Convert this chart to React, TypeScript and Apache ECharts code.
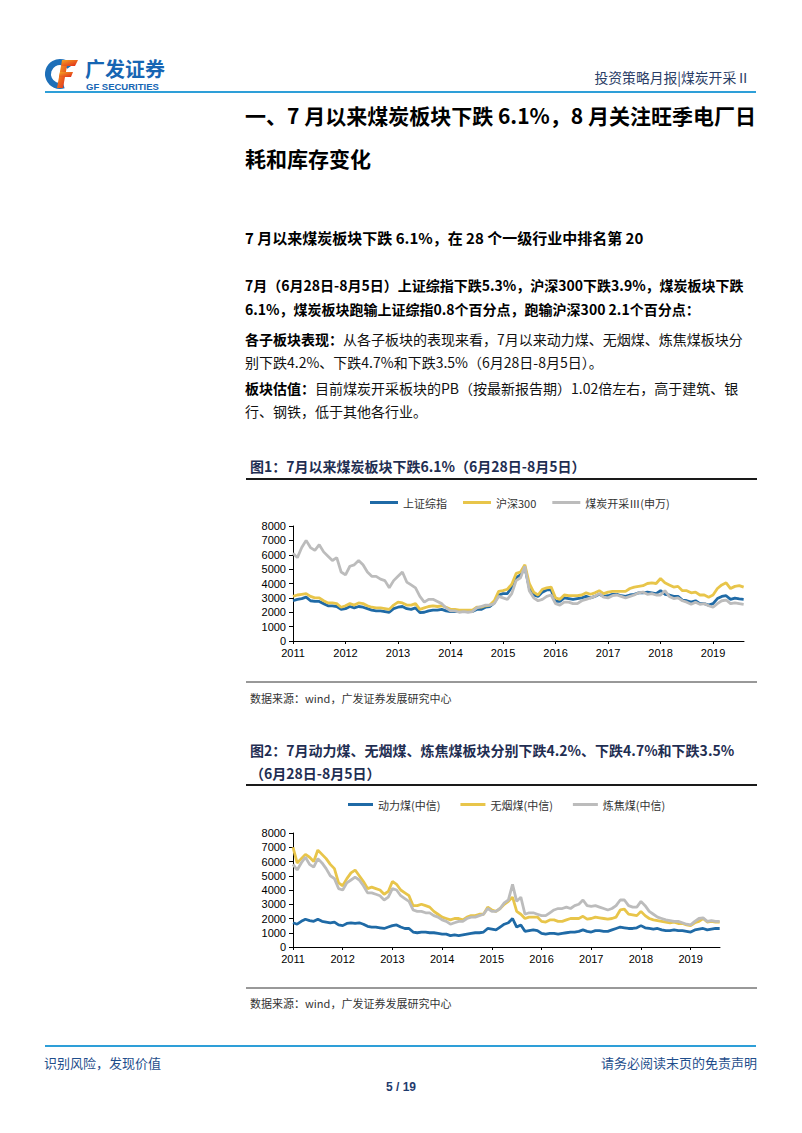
import React, { useEffect, useRef } from 'react';
import * as echarts from 'echarts';

// ---------- data ----------
const years = [2011, 2012, 2013, 2014, 2015, 2016, 2017, 2018, 2019];
const lastYearMonths = 8; // data through Aug 2019

const names1 = ['上证综指', '沪深300', '煤炭开采Ⅲ(申万)'];
const names2 = ['动力煤(中信)', '无烟煤(中信)', '炼焦煤(中信)'];

const shComposite = [
  2800, 2900, 2950, 3050, 2800, 2750, 2750, 2600, 2450, 2450, 2400, 2200,
  2250, 2400, 2300, 2400, 2350, 2250, 2150, 2100, 2100, 2050, 2000, 2250,
  2350, 2400, 2250, 2200, 2300, 1980, 2000, 2100, 2150, 2150, 2200, 2100,
  2050, 2050, 2050, 2050, 2050, 2050, 2200, 2200, 2350, 2400, 2650, 3200,
  3300, 3300, 3750, 4400, 4600, 5100, 3700, 3200, 3100, 3400, 3550, 3550,
  2750, 2750, 3000, 2950, 2900, 2950, 3000, 3100, 3000, 3100, 3250, 3100,
  3150, 3250, 3250, 3150, 3100, 3200, 3250, 3350, 3350, 3400, 3350, 3300,
  3500, 3250, 3200, 3100, 3100, 2850, 2800, 2700, 2800, 2600, 2600, 2500,
  2600, 2950, 3100, 3150, 2900, 2980, 2930, 2900,
];
const hs300 = [
  3100, 3200, 3250, 3300, 3100, 3000, 3000, 2800, 2650, 2650, 2600, 2350,
  2450, 2600, 2500, 2650, 2600, 2450, 2350, 2300, 2300, 2250, 2200, 2500,
  2700, 2650, 2500, 2500, 2600, 2200, 2300, 2400, 2450, 2400, 2450, 2350,
  2200, 2200, 2150, 2150, 2150, 2150, 2350, 2350, 2450, 2500, 2800, 3450,
  3500, 3600, 3950, 4700, 4800, 5300, 4000, 3400, 3200, 3600, 3700, 3750,
  3000, 2900, 3200, 3150, 3150, 3150, 3200, 3350, 3250, 3350, 3500, 3300,
  3400, 3450, 3450, 3450, 3450, 3650, 3750, 3800, 3850, 4000, 4050, 4000,
  4350, 4050, 3900, 3750, 3800, 3500, 3500, 3350, 3400, 3200, 3200, 3050,
  3200, 3650, 3900, 4050, 3650, 3800, 3850, 3750,
];
const coalMining = [
  6100, 5800, 6500, 7000, 6500, 6300, 6700, 6200, 5900, 5600, 5800, 4800,
  4600, 5200, 5300, 5600, 5300, 4800, 4500, 4500, 4300, 4200, 3700, 4200,
  4500, 4800, 4100, 3900, 3700, 3100, 2700, 2900, 2900, 2750, 2600, 2300,
  2100, 2100, 2000, 2050, 2000, 2050, 2300, 2400, 2500, 2500, 2600, 3100,
  3000, 2900, 3300, 4200, 4400, 5200, 3500, 3000, 2800, 2900, 3100, 3200,
  2600, 2500, 2700, 2700, 2600, 2600, 2800, 2900, 3000, 3100, 3300, 3050,
  3000, 3150, 3200, 3100, 3000, 3100, 3200, 3350, 3400, 3250, 3300, 3200,
  3200, 3500, 3100, 2950, 3000, 2800, 2700, 2550, 2700, 2550, 2600, 2450,
  2350, 2600, 2800, 2850, 2600, 2650, 2600, 2550,
];

const thermalCoal = [
  1700, 1600, 1800, 1950, 1850, 1800, 1950, 1800, 1750, 1700, 1750, 1550,
  1500, 1650, 1700, 1650, 1700, 1600, 1450, 1400, 1400, 1350, 1300, 1400,
  1500, 1550, 1400, 1300, 1300, 1050, 1000, 1050, 1050, 1000, 1000, 950,
  900, 900, 800, 850, 800, 850, 900, 950, 1000, 1000, 1050, 1300,
  1250, 1200, 1400, 1600, 1700, 2000, 1400, 1550, 1100, 1150, 1200, 1150,
  950, 900, 950, 950, 900, 950, 1000, 1050, 1050, 1100, 1200, 1100,
  1050, 1150, 1150, 1100, 1100, 1200, 1300, 1400, 1350, 1300, 1300, 1350,
  1500, 1350, 1300, 1250, 1300, 1200, 1150, 1150, 1200, 1150, 1150, 1100,
  1050, 1200, 1250, 1300, 1200, 1250, 1300, 1300,
];
const anthracite = [
  7000, 5900, 6200, 6500, 6300, 6000, 6800, 6500, 6200, 5800, 5500, 4500,
  4300, 4800, 5200, 5400, 5000, 4600, 4100, 4200, 4100, 4000, 3700, 3900,
  4600, 4400, 4000, 3800, 3600, 2900, 2900, 3000, 2900, 2800, 2500, 2300,
  2100, 2000, 1900, 2000, 2000, 1900, 2100, 2200, 2200, 2300, 2300, 2800,
  2600, 2500, 2700, 3000, 3200, 3500, 2500, 2300, 2000, 2100, 2100, 2100,
  1800, 1750, 1900, 1900, 1800, 1800, 1900, 2000, 2000, 2000, 2150, 1950,
  2000, 2100, 2050, 2000, 1950, 2000, 2100, 2600, 2650, 2300, 2250, 2200,
  2500, 2200, 2000, 1900, 1850, 1800, 1750, 1700, 1750, 1650, 1650, 1550,
  1500, 1700, 1800, 2000, 1750, 1800, 1750, 1750,
];
const cokingCoal = [
  5800, 5400, 5900, 6300, 5800, 5600, 6200, 5900, 5500, 5000, 4800, 4100,
  4000, 4500, 4700, 4900, 4700, 4300, 3800, 3800, 3700, 3600, 3300, 3500,
  4100, 4000, 3600, 3400, 3200, 2600, 2500, 2500, 2400, 2400, 2200, 2100,
  1900, 1800, 1600, 1700, 1800, 1800, 2000, 2100, 2100, 2200, 2300, 2700,
  2500, 2500, 2700, 3100, 3300, 4400, 3200, 3500, 2300, 2400, 2400, 2300,
  2200, 2200, 2400, 2600, 2700, 2700, 2800, 2700, 2900, 3000, 3300, 2900,
  2850, 2900, 2800, 2700, 2600, 2700, 2900, 3300, 3300, 2900, 2800, 2800,
  3200, 2900, 2500, 2300, 2100, 2000, 1900, 1850, 1800, 1800, 1700, 1600,
  1550, 1800, 2000, 2050, 1800, 1850, 1800, 1800,
];

const yTicks = { min: 0, max: 8000, interval: 1000 };

// ---------- helpers ----------
const xs: number[] = [];
years.forEach((y, yi) => {
  const n = yi === years.length - 1 ? lastYearMonths : 12;
  for (let m = 0; m < n; m++) xs.push(y + m / 12);
});
const pairs = (arr: number[]) => arr.map((v, i) => [xs[i], v]);

const BLUE = '#1f6aa6';
const YELLOW = '#e8c54a';
const GRAY = '#bcbcbc';
const NAVY = '#1f2e52';
const CJK = '"Noto Sans CJK SC", "Liberation Sans", sans-serif';
const LAT = '"Liberation Sans", Arial, sans-serif';

const xAxisCfg = (gi: number) => ({
  gridIndex: gi,
  type: 'value',
  min: 2011,
  max: 2019.59,
  interval: 1,
  axisLine: { show: true, lineStyle: { color: '#000', width: 1 } },
  axisTick: { show: true, length: 3, lineStyle: { color: '#000' } },
  splitLine: { show: false },
  axisLabel: {
    showMaxLabel: false,
    margin: 6,
    fontSize: 11,
    fontFamily: LAT,
    color: '#000',
    formatter: (v: number) => (Number.isInteger(v) ? String(v) : ''),
  },
});
const yAxisCfg = (gi: number) => ({
  gridIndex: gi,
  type: 'value',
  ...yTicks,
  axisLine: { show: true, lineStyle: { color: '#000', width: 1 } },
  axisTick: { show: true, length: 4, lineStyle: { color: '#000' } },
  splitLine: { show: false },
  axisLabel: {
    margin: 7,
    fontSize: 11,
    fontFamily: LAT,
    color: '#000',
    formatter: (v: number) => String(v),
  },
});
const lineSeries = (name: string, arr: number[], color: string, gi: number) => ({
  name,
  type: 'line',
  xAxisIndex: gi,
  yAxisIndex: gi,
  data: pairs(arr),
  showSymbol: false,
  symbol: 'none',
  lineStyle: { color, width: 2.8 },
  itemStyle: { color },
});

const txt = (text: string, x: number, y: number, font: string, fill = '#000', align = 'left') => ({
  type: 'text',
  style: { text, x, y, font, fill, align, verticalAlign: 'middle' },
});
const hline = (x1: number, x2: number, y: number, stroke: string, lineWidth: number) => ({
  type: 'line',
  shape: { x1, y1: y, x2, y2: y },
  style: { stroke, lineWidth },
});

export default function App() {
  const ref = useRef<HTMLDivElement>(null);
  useEffect(() => {
    if (!ref.current) return;
    const chart = echarts.init(ref.current, undefined, { renderer: 'svg' });
    const redGrad = new echarts.graphic.LinearGradient(0, 0, 1, 1, [
      { offset: 0, color: '#f5a623' },
      { offset: 1, color: '#e0261b' },
    ]);
    const paraBold = `bold 14px ${CJK}`;
    const paraNorm = `14px ${CJK}`;
    const rich = {
      b: { font: paraBold, fill: '#000' },
      n: { font: paraNorm, fill: '#111' },
    };
    chart.setOption({
      animation: false,
      backgroundColor: '#fff',
      grid: [
        { left: 293, top: 526, width: 451, height: 115 },
        { left: 293, top: 833, width: 427, height: 114 },
      ],
      legend: [
        {
          data: names1,
          left: 370,
          top: 497,
          padding: 0,
          icon: 'rect',
          itemWidth: 28,
          itemHeight: 3,
          itemGap: 16,
          textStyle: { fontSize: 11, fontFamily: CJK, color: '#333' },
        },
        {
          data: names2,
          left: 348,
          top: 799,
          padding: 0,
          icon: 'rect',
          itemWidth: 25,
          itemHeight: 3,
          itemGap: 20,
          textStyle: { fontSize: 11, fontFamily: CJK, color: '#333' },
        },
      ],
      xAxis: [xAxisCfg(0), xAxisCfg(1)],
      yAxis: [yAxisCfg(0), yAxisCfg(1)],
      series: [
        lineSeries(names1[0], shComposite, BLUE, 0),
        lineSeries(names1[1], hs300, YELLOW, 0),
        lineSeries(names1[2], coalMining, GRAY, 0),
        lineSeries(names2[0], thermalCoal, BLUE, 1),
        lineSeries(names2[1], anthracite, YELLOW, 1),
        lineSeries(names2[2], cokingCoal, GRAY, 1),
      ],
      graphic: [
        // logo
        {
          type: 'arc',
          shape: { cx: 60, cy: 74, r: 12, startAngle: Math.PI * 0.4, endAngle: Math.PI * 1.8, clockwise: true },
          style: { stroke: '#1d6fb8', lineWidth: 6, fill: 'none' },
        },
        { type: 'polygon', shape: { points: [[62, 60], [78, 60], [75, 66], [61, 66]] }, style: { fill: redGrad } },
        { type: 'polygon', shape: { points: [[61, 66], [67, 66], [63, 88], [57, 88]] }, style: { fill: redGrad } },
        { type: 'polygon', shape: { points: [[60, 72], [73, 72], [71, 77], [59, 77]] }, style: { fill: redGrad } },
        txt('广发证券', 85, 68, `bold 20px ${CJK}`, '#1665b3'),
        txt('GF SECURITIES', 86, 86, `bold 9.5px ${LAT}`, '#1665b3'),
        txt('投资策略月报|煤炭开采Ⅱ', 750, 77, `13.8px ${CJK}`, '#2a3d66', 'right'),
        hline(45, 756, 92, '#2e9fd8', 2),
        // section title
        txt('一、7 月以来煤炭板块下跌 6.1%，8 月关注旺季电厂日', 245, 115, `bold 21px ${CJK}`),
        txt('耗和库存变化', 245, 158, `bold 21px ${CJK}`),
        txt('7 月以来煤炭板块下跌 6.1%，在 28 个一级行业中排名第 20', 245, 237, `bold 15px ${CJK}`),
        // paragraphs
        txt('7月（6月28日-8月5日）上证综指下跌5.3%，沪深300下跌3.9%，煤炭板块下跌', 245, 285, paraBold),
        txt('6.1%，煤炭板块跑输上证综指0.8个百分点，跑输沪深300 2.1个百分点：', 245, 309, paraBold),
        {
          type: 'text',
          style: {
            text: '{b|各子板块表现：}{n|从各子板块的表现来看，7月以来动力煤、无烟煤、炼焦煤板块分}',
            x: 245, y: 339, verticalAlign: 'middle', rich,
          },
        },
        txt('别下跌4.2%、下跌4.7%和下跌3.5%（6月28日-8月5日）。', 245, 362, paraNorm, '#111'),
        {
          type: 'text',
          style: {
            text: '{b|板块估值：}{n|目前煤炭开采板块的PB（按最新报告期）1.02倍左右，高于建筑、银}',
            x: 245, y: 388, verticalAlign: 'middle', rich,
          },
        },
        txt('行、钢铁，低于其他各行业。', 245, 411, paraNorm, '#111'),
        // figure 1
        txt('图1：7月以来煤炭板块下跌6.1%（6月28日-8月5日）', 250, 466, `bold 14px ${CJK}`, NAVY),
        hline(246, 757, 479, '#1a1a1a', 2),
        hline(246, 757, 682, '#333', 1),
        txt('数据来源：wind，广发证券发展研究中心', 250, 698, `11px ${CJK}`, '#333'),
        // figure 2
        txt('图2：7月动力煤、无烟煤、炼焦煤板块分别下跌4.2%、下跌4.7%和下跌3.5%', 250, 750, `bold 14px ${CJK}`, NAVY),
        txt('（6月28日-8月5日）', 250, 773, `bold 14px ${CJK}`, NAVY),
        hline(246, 757, 785, '#1a1a1a', 2),
        hline(246, 757, 988, '#333', 1),
        txt('数据来源：wind，广发证券发展研究中心', 250, 1003, `11px ${CJK}`, '#333'),
        // footer
        hline(45, 756, 1046, '#2e9fd8', 2),
        txt('识别风险，发现价值', 44, 1062, `13px ${CJK}`, '#1f4e8c'),
        txt('请务必阅读末页的免责声明', 757, 1062, `13px ${CJK}`, '#1f4e8c', 'right'),
        txt('5 / 19', 401, 1087, `bold 12px ${LAT}`, '#1f3b6e', 'center'),
      ],
    });
    return () => chart.dispose();
  }, []);
  return (
    <div
      ref={ref}
      style={{ position: 'absolute', left: 0, top: 0, width: 802, height: 1133, background: '#fff' }}
    />
  );
}
